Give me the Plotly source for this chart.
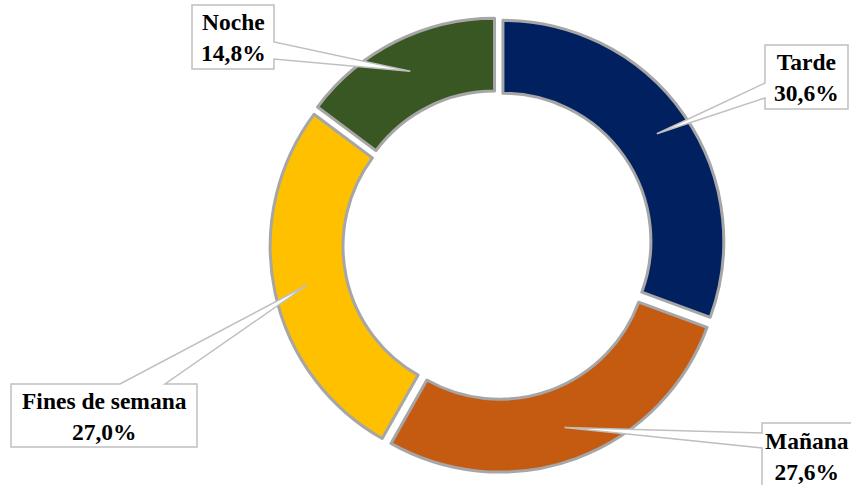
import math
import plotly.graph_objects as go

# ---- data ----
labels = ["Tarde", "Mañana", "Fines de semana", "Noche"]
values = [30.6, 27.6, 27.0, 14.8]
value_text = ["30,6%", "27,6%", "27,0%", "14,8%"]

# ---- styles / layout ----
colors = ["#002060", "#C55A11", "#FFC000", "#385723"]
W, H = 851, 485
dom_x = [0.3173, 0.8519]
dom_y = [0.0258, 0.9639]
pull = 0.03
hole = 0.67

# callout boxes in pixels: (x0, y0, x1, y1, side, base_a, base_b, text_cx)
boxes = {
    "Tarde": (765, 45, 848, 109, "left", 83, 98, 806.5),
    "Mañana": (762, 423, 864, 488, "left", 433, 448, 807),
    "Fines de semana": (11, 384, 197, 447, "top", 120, 165, 104),
    "Noche": (192, 5, 274, 69, "right", 42, 59, 233),
}

fig = go.Figure(go.Pie(
    labels=labels, values=values, sort=False, direction="clockwise", rotation=0,
    hole=hole, pull=pull, textinfo="none", showlegend=False,
    marker=dict(colors=colors, line=dict(color="#A6A6A6", width=3)),
    domain=dict(x=dom_x, y=dom_y),
))

# pie geometry (mirrors plotly's own scaling)
vpw = W * (dom_x[1] - dom_x[0])
vph = H * (dom_y[1] - dom_y[0])
r = min(vpw, vph) / (2 + 2 * pull)
cx = W * (dom_x[0] + dom_x[1]) / 2
cy = H * (2 - dom_y[0] - dom_y[1]) / 2
total = sum(values)

def px(x, y):
    return f"{x / W:.5f},{1 - y / H:.5f}"

cum = 0.0
shapes = []
annotations = []
for lab, val, vt in zip(labels, values, value_text):
    mid = (cum + val / 2) / total * 2 * math.pi
    cum += val
    rr = 0.85 * r + pull * r
    tx = cx + rr * math.sin(mid)
    ty = cy - rr * math.cos(mid)
    x0, y0, x1, y1, side, a, b, tcx = boxes[lab]
    if side == "right":
        pts = [(x0, y0), (x1, y0), (x1, a), (tx, ty), (x1, b), (x1, y1), (x0, y1)]
    elif side == "left":
        pts = [(x0, y0), (x1, y0), (x1, y1), (x0, y1), (x0, b), (tx, ty), (x0, a)]
    else:  # top
        pts = [(x0, y0), (a, y0), (tx, ty), (b, y0), (x1, y0), (x1, y1), (x0, y1)]
    path = "M " + " L ".join(px(*p) for p in pts) + " Z"
    shapes.append(dict(type="path", xref="paper", yref="paper", path=path,
                       fillcolor="white", line=dict(color="#BFBFBF", width=1.5)))
    annotations.append(dict(
        xref="paper", yref="paper", x=tcx / W, y=1 - ((y0 + y1) / 2 + 1) / H,
        xanchor="center", yanchor="middle", showarrow=False,
        text=f"<b>{lab}<br>{vt}</b>", align="center",
        font=dict(family="Liberation Serif", size=23.5, color="#000000"),
    ))

fig.update_layout(
    width=W, height=H, margin=dict(l=0, r=0, t=0, b=0),
    paper_bgcolor="white", plot_bgcolor="white",
    shapes=shapes, annotations=annotations,
)
fig.write_html("out.html", config={"displayModeBar": False},
               post_script="document.body.style.margin='0';")
